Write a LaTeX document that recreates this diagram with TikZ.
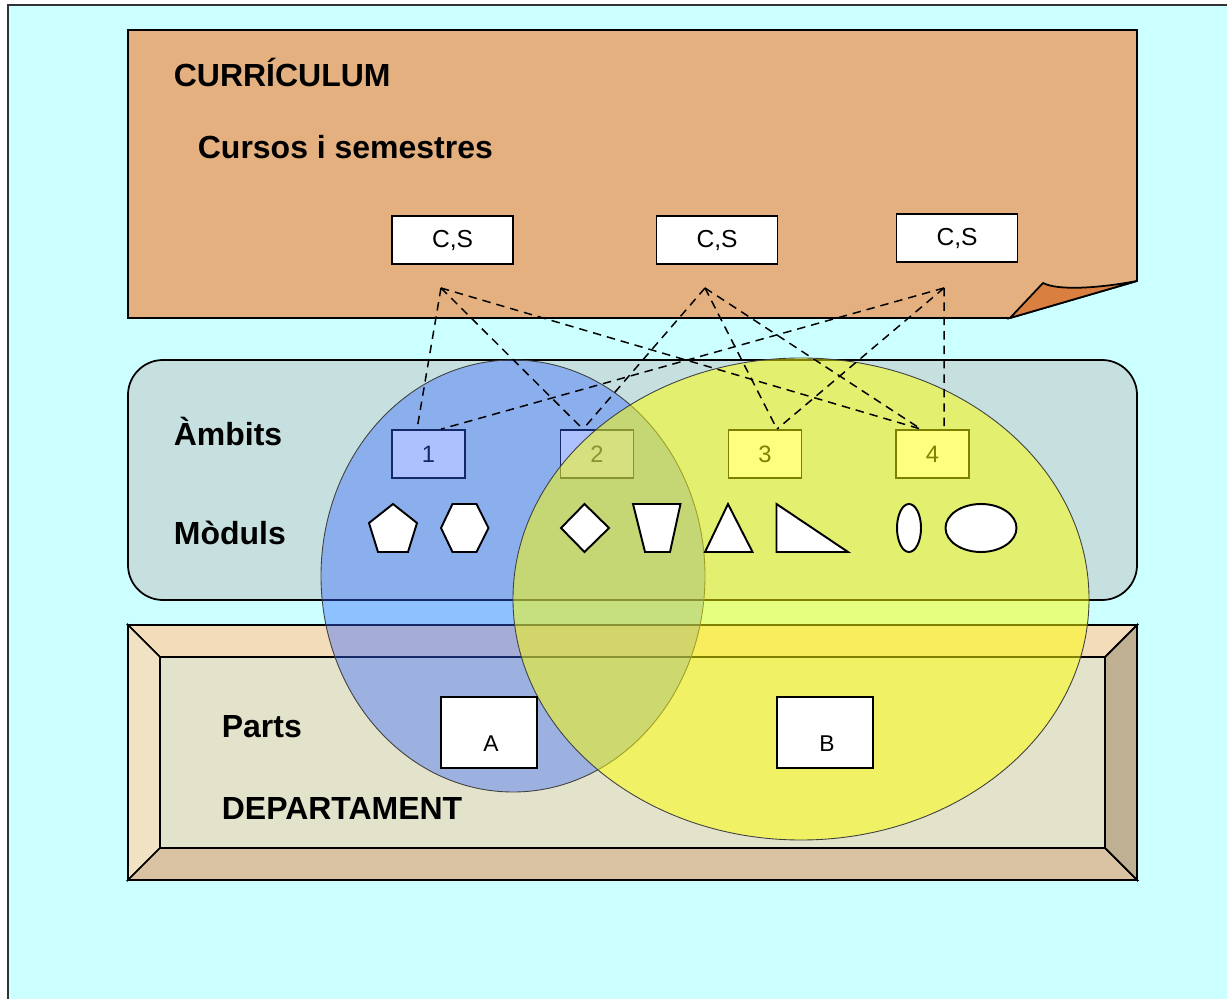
\documentclass[tikz,border=0pt]{standalone}
\usepackage{fontspec}
\setmainfont{Liberation Sans}

\definecolor{bgcyan}{HTML}{CCFFFF}
\definecolor{paper}{HTML}{E4B080}
\definecolor{fold}{HTML}{D98040}
\definecolor{panel}{HTML}{C6E0E0}
\definecolor{bevtop}{HTML}{F2DCBA}
\definecolor{bevleft}{HTML}{F2E2C4}
\definecolor{bevbot}{HTML}{D9C3A3}
\definecolor{bevright}{HTML}{BFAF93}
\definecolor{bevin}{HTML}{E3E3CB}
\definecolor{setblue}{HTML}{3366FF}
\definecolor{setyellow}{HTML}{FFFF00}

\begin{document}
\begin{tikzpicture}[x=0.02cm, y=-0.02cm, line width=1pt,
		title/.style={anchor=base west, inner sep=0pt, font=\fontsize{18.2}{20}\selectfont\bfseries},
		csbox/.style={draw, fill=white, minimum width=2.42cm, minimum height=0.96cm, inner sep=0pt, font=\fontsize{14}{16}\selectfont},
		ambitbox/.style={draw, fill=white, minimum width=1.46cm, minimum height=0.96cm, inner sep=0pt, font=\fontsize{13.5}{15}\selectfont},
		partbox/.style={draw, fill=white, minimum width=1.92cm, minimum height=1.42cm, inner sep=0pt},
		partlbl/.style={inner sep=0pt, font=\fontsize{13}{14}\selectfont},
		modshape/.style={draw, fill=white, line width=1.1pt},
		link/.style={dash pattern=on 4.8pt off 3.4pt, line width=0.85pt}]
	\useasboundingbox (0,0) rectangle (1227,999);
	
	% Background
	\fill[bgcyan] (8,5) rectangle (1240,1010);
	\draw[black!80, line width=1.2pt] (8,1010) -- (8,5) -- (1240,5);
	
	% Curriculum sheet
	\draw[fill=paper] (128,30) -- (1137,30) -- (1137,281) -- (1010,318) -- (128,318) -- cycle;
	\draw[fill=fold] (1010,318) -- (1043,283) .. controls (1058,291) and (1100,288) .. (1137,281) -- cycle;
	
	% Ambits panel
	\draw[fill=panel, rounded corners=0.7cm] (128,360) rectangle (1137,600);
	
	% Department frame
	\draw[fill=bevtop] (128,625) -- (1137,625) -- (1105,657) -- (160,657) -- cycle;
	\draw[fill=bevleft] (128,625) -- (160,657) -- (160,848) -- (128,880) -- cycle;
	\draw[fill=bevbot] (128,880) -- (160,848) -- (1105,848) -- (1137,880) -- cycle;
	\draw[fill=bevright] (1137,625) -- (1137,880) -- (1105,848) -- (1105,657) -- cycle;
	\draw[fill=bevin] (160,657) rectangle (1105,848);
	
	% Labels
	\node[title] (curr) at (173,87) {CURRÍCULUM};
	\node[title] (cursos) at (197,159) {Cursos i semestres};
	\node[title] (ambits) at (173,446) {Àmbits};
	\node[title] (moduls) at (173,545) {Mòduls};
	\node[title] (parts) at (221,737) {Parts};
	\node[title] (dept) at (221,819) {DEPARTAMENT};
	
	% Courses and semesters
	\node[csbox] (cs1) at (452.5,240) {C,S};
	\node[csbox] (cs2) at (717,240) {C,S};
	\node[csbox] (cs3) at (957,238) {C,S};
	
	% Ambits
	\node[ambitbox] (b1) at (428.5,454) {1};
	\node[ambitbox] (b2) at (597,454) {2};
	\node[ambitbox] (b3) at (765,454) {3};
	\node[ambitbox] (b4) at (932.5,454) {4};
	
	% Sets
	\draw[fill=setblue, fill opacity=0.4, draw=black!75, line width=0.5pt] (513,576) ellipse [x radius=192, y radius=216];
	\draw[fill=setyellow, fill opacity=0.5, draw=black!75, line width=0.5pt] (801,599) ellipse [x radius=288, y radius=241];
	
	% Modules
	\draw[modshape] (393,504) -- (417,523) -- (408,552) -- (378,552) -- (369,523) -- cycle;
	\draw[modshape] (441,528) -- (452.5,504) -- (476.5,504) -- (488.5,528) -- (476.5,552) -- (452.5,552) -- cycle;
	\draw[modshape] (561,528) -- (584.5,504) -- (609,528) -- (584.5,552) -- cycle;
	\draw[modshape] (633,504) -- (680.5,504) -- (670,552) -- (645,552) -- cycle;
	\draw[modshape] (705,552) -- (728,504) -- (752.5,552) -- cycle;
	\draw[modshape] (776.5,504) -- (776.5,552) -- (848,552) -- cycle;
	\draw[modshape] (909,528) ellipse [x radius=12, y radius=24];
	\draw[modshape] (981,528) ellipse [x radius=35.5, y radius=24];
	
	% Parts
	\node[partbox] (pa) at (489,732.5) {};
	\node[partlbl] (la) at ([xshift=0.04cm, yshift=-0.23cm]pa.center) {A};
	\node[partbox] (pb) at (825,732.5) {};
	\node[partlbl] (lb) at ([xshift=0.04cm, yshift=-0.23cm]pb.center) {B};
	
	% Links
	\coordinate (p1) at (441,288);
	\coordinate (p2) at (705,288);
	\coordinate (p3) at (944,288);
	\draw[link] (p1) -- ([xshift=-0.23cm]b1.north);
	\draw[link] (p1) -- ([xshift=-0.28cm]b2.north);
	\draw[link] (p1) -- ([xshift=-0.23cm]b4.north);
	\draw[link] (p2) -- ([xshift=-0.28cm]b2.north);
	\draw[link] (p2) -- ([xshift=0.24cm]b3.north);
	\draw[link] (p2) -- ([xshift=-0.23cm]b4.north);
	\draw[link] (p3) -- ([xshift=0.25cm]b1.north);
	\draw[link] (p3) -- ([xshift=0.24cm]b3.north);
	\draw[link] (p3) -- ([xshift=0.23cm]b4.north);
\end{tikzpicture}
\end{document}
